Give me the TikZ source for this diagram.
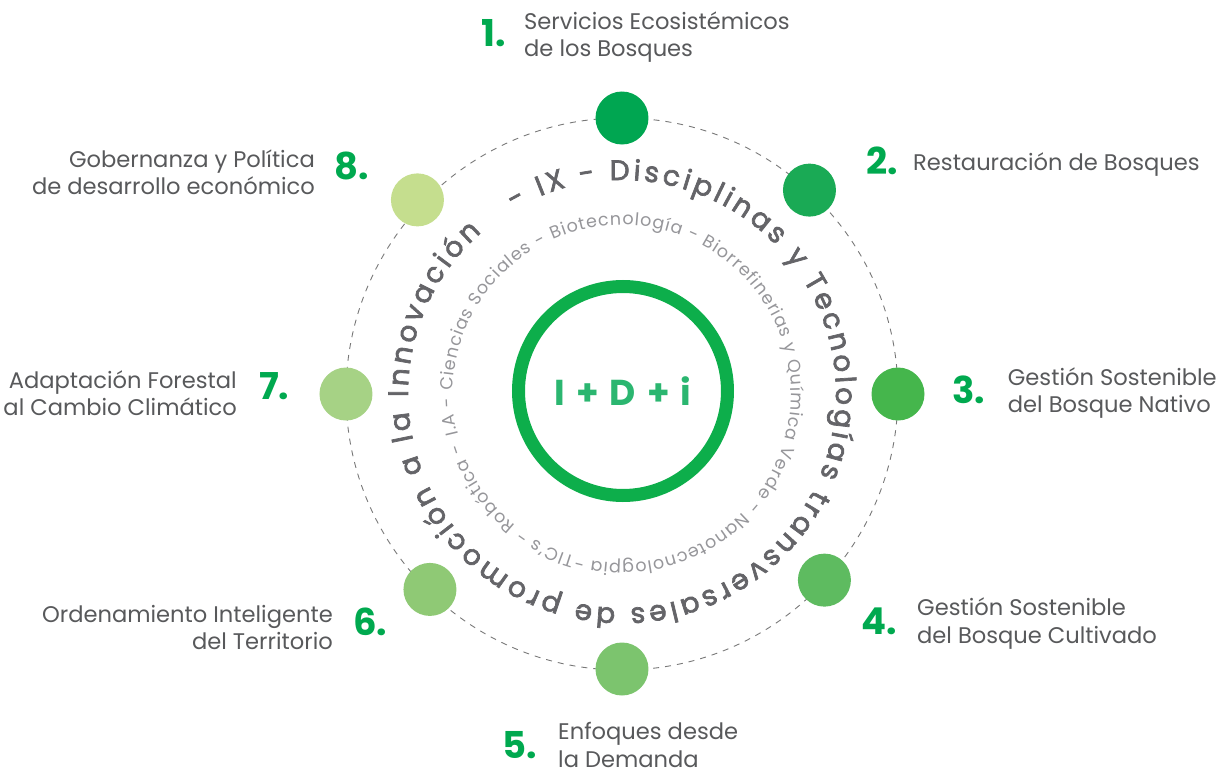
\documentclass[tikz,border=0pt]{standalone}
\usepackage{fontspec}
\setmainfont{Poppins}
\newfontfamily\ringfont[FakeBold=2.5]{Poppins}
\usetikzlibrary{decorations.text}
\definecolor{numgreen}{RGB}{0,169,79}
\definecolor{ringgreen}{RGB}{13,174,75}
\definecolor{idigreen}{RGB}{43,182,112}
\definecolor{lblgray}{RGB}{88,89,91}
\definecolor{outergray}{RGB}{100,100,104}
\definecolor{innergray}{RGB}{150,150,154}
\definecolor{dashgray}{RGB}{120,120,120}
\definecolor{cA}{RGB}{0,166,81}
\definecolor{cB}{RGB}{26,170,85}
\definecolor{cC}{RGB}{69,182,76}
\definecolor{cD}{RGB}{94,187,96}
\definecolor{cE}{RGB}{124,196,110}
\definecolor{cF}{RGB}{143,201,117}
\definecolor{cG}{RGB}{166,210,133}
\definecolor{cH}{RGB}{197,222,142}
\begin{document}
\begin{tikzpicture}[x=1pt,y=1pt,
    dot/.style={circle, minimum size=53pt, inner sep=0pt},
    num/.style={text=numgreen, inner sep=0pt, font=\fontsize{37}{37}\selectfont\bfseries},
    lbl/.style={text=lblgray, inner sep=0pt, font=\fontsize{22.6}{27.5}\selectfont}]
\useasboundingbox (-622,-378) rectangle (610,394);
\draw[dashgray, line width=0.9pt, dash pattern=on 6pt off 6pt] (0,0) circle[radius=276];
\node[dot, fill=cA] (s1) at (90:276) {};
\node[dot, fill=cB] (s2) at (47.4:277) {};
\node[dot, fill=cC] (s3) at (0:276) {};
\node[dot, fill=cD] (s4) at (-42.6:275) {};
\node[dot, fill=cE] (s5) at (-90:275) {};
\node[dot, fill=cF] (s6) at (-134.5:274) {};
\node[dot, fill=cG] (s7) at (180:276) {};
\node[dot, fill=cH] (s8) at (136.5:282) {};
\node[circle, draw=ringgreen, line width=13pt, minimum size=209pt, inner sep=0pt,
      text=idigreen, font=\fontsize{36}{36}\selectfont\bfseries] (core) at (1,3)
      {I\hspace{11pt}+\hspace{11pt}D\hspace{11pt}+\hspace{11pt}i};
\path[decorate, decoration={text along path, text align={fit to path}, text color=outergray,
      text={|\fontsize{28}{28}\ringfont|- IX - Disciplinas y Tecnologías transversales de promoción a la Innovación}}]
  (120.5:214) arc[start angle=120.5, end angle=-229, radius=214];
\path[decorate, decoration={text along path, text align={fit to path}, text color=innergray,
      text={|\fontsize{17.5}{17.5}\selectfont|I.A - Ciencias Sociales - Biotecnología - Biorrefinerias y Química Verde - Nanotecnologpia -TIC's - Robótica -}}]
  (194:169) arc[start angle=194, end angle=-163, radius=169];
\node[num] (n1) at (-128,361) {1.};
\node[lbl, anchor=west, align=left] (t1) at (-98,357) {Servicios Ecosistémicos\\de los Bosques};
\node[num] (n2) at (260.5,233.5) {2.};
\node[lbl, anchor=west, align=left] (t2) at (291,229) {Restauración de Bosques};
\node[num] (n3) at (347,4) {3.};
\node[lbl, anchor=west, align=left] (t3) at (385.7,1) {Gestión Sostenible\\del Bosque Nativo};
\node[num] (n4) at (257.4,-227.5) {4.};
\node[lbl, anchor=west, align=left] (t4) at (295,-229.5) {Gestión Sostenible\\del Bosque Cultivado};
\node[num] (n5) at (-102,-351) {5.};
\node[lbl, anchor=west, align=left] (t5) at (-64,-351) {Enfoques desde\\la Demanda};
\node[num] (n6) at (-251.6,-227.5) {6.};
\node[lbl, anchor=east, align=right] (t6) at (-289,-233.5) {Ordenamiento Inteligente\\del Territorio};
\node[num] (n7) at (-347.8,7.5) {7.};
\node[lbl, anchor=east, align=right] (t7) at (-385,0.6) {Adaptación Forestal\\al Cambio Climático};
\node[num] (n8) at (-270.3,228) {8.};
\node[lbl, anchor=east, align=right] (t8) at (-307,221.6) {Gobernanza y Política\\de desarrollo económico};
\end{tikzpicture}
\end{document}
